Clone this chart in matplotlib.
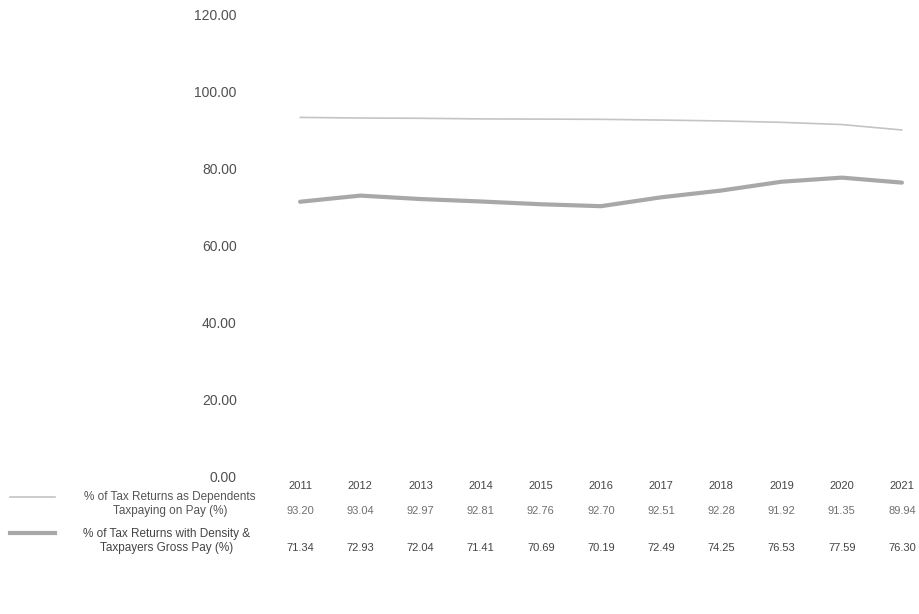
import matplotlib.pyplot as plt
from matplotlib.transforms import blended_transform_factory

# =========================
# DATA
# =========================
years = [2011, 2012, 2013, 2014, 2015, 2016, 2017, 2018, 2019, 2020, 2021]

series_1_name = "% of Tax Returns as Dependents\nTaxpaying on Pay (%)"
series_1 = [93.20, 93.04, 92.97, 92.81, 92.76, 92.70, 92.51, 92.28, 91.92, 91.35, 89.94]

series_2_name = "% of Tax Returns with Density &\nTaxpayers Gross Pay (%)"
series_2 = [71.34, 72.93, 72.04, 71.41, 70.69, 70.19, 72.49, 74.25, 76.53, 77.59, 76.30]

y_ticks = [0, 20, 40, 60, 80, 100, 120]

# =========================
# FIGURE
# =========================
plt.rcParams["font.family"] = ["Liberation Sans", "DejaVu Sans"]

W, H = 920, 614
fig = plt.figure(figsize=(W / 100, H / 100), dpi=100)

# plot area in pixels (left, right, top, bottom)
px_left, px_right = 270, 932
px_top, px_bottom = 14, 477
ax = fig.add_axes([px_left / W, 1 - px_bottom / H,
                   (px_right - px_left) / W, (px_bottom - px_top) / H])

x = list(range(len(years)))
c1 = "#c4c4c4"
c2 = "#a8a8a8"
ax.plot(x, series_1, color=c1, lw=1.2, solid_capstyle="round")
ax.plot(x, series_2, color=c2, lw=3.0, solid_capstyle="round")

ax.set_xlim(-0.5, len(years) - 0.5)
ax.set_ylim(0, 120)
ax.set_yticks(y_ticks)
ax.set_yticklabels([f"{v:.2f}" for v in y_ticks], fontsize=10, color="#505050")
ax.tick_params(axis="y", length=0, pad=24)
ax.set_xticks([])
for s in ax.spines.values():
    s.set_visible(False)

# =========================
# DATA TABLE UNDER THE CHART
# =========================
tr = blended_transform_factory(ax.transData, fig.transFigure)


def fy(py):
    return 1 - py / H


for i, yr in enumerate(years):
    ax.text(i, fy(486), str(yr), transform=tr, ha="center", va="center",
            fontsize=8, color="#444444")
    ax.text(i, fy(511), f"{series_1[i]:.2f}", transform=tr, ha="center", va="center",
            fontsize=8, color="#707070")
    ax.text(i, fy(548), f"{series_2[i]:.2f}", transform=tr, ha="center", va="center",
            fontsize=8, color="#444444")

# row headers with legend keys
fig.text(170 / W, fy(504), series_1_name, ha="center", va="center",
         fontsize=8.5, color="#555555", linespacing=1.15)
fig.text(167 / W, fy(541), series_2_name, ha="center", va="center",
         fontsize=8.5, color="#444444", linespacing=1.15)
fig.add_artist(plt.Line2D([10 / W, 55 / W], [fy(497), fy(497)], color=c1, lw=1.2))
fig.add_artist(plt.Line2D([10 / W, 55 / W], [fy(533), fy(533)], color=c2, lw=3.0))

fig.savefig("out.png", dpi=100)
